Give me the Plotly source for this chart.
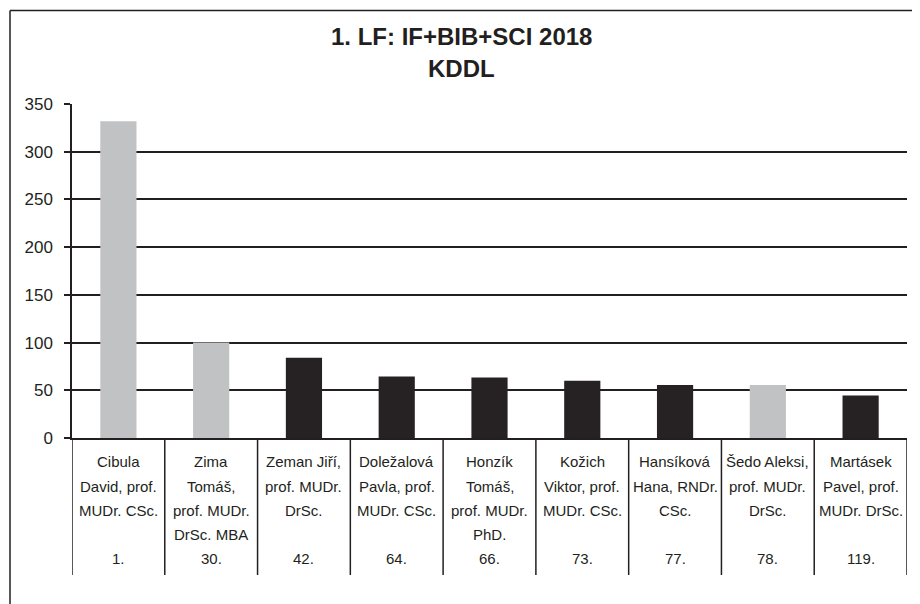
import plotly.graph_objects as go

# ---- data ----
names = ["Cibula David", "Zima Tomáš", "Zeman Jiří", "Doležalová Pavla", "Honzík Tomáš",
         "Kožich Viktor", "Hansíková Hana", "Šedo Aleksi", "Martásek Pavel"]
label_lines = [
    ["Cibula", "David, prof.", "MUDr. CSc.", ""],
    ["Zima", "Tomáš,", "prof. MUDr.", "DrSc. MBA"],
    ["Zeman Jiří,", "prof. MUDr.", "DrSc.", ""],
    ["Doležalová", "Pavla, prof.", "MUDr. CSc.", ""],
    ["Honzík", "Tomáš,", "prof. MUDr.", "PhD."],
    ["Kožich", "Viktor, prof.", "MUDr. CSc.", ""],
    ["Hansíková", "Hana, RNDr.", "CSc.", ""],
    ["Šedo Aleksi,", "prof. MUDr.", "DrSc.", ""],
    ["Martásek", "Pavel, prof.", "MUDr. DrSc.", ""],
]
ranks = ["1.", "30.", "42.", "64.", "66.", "73.", "77.", "78.", "119."]
values = [332, 100, 84, 64.5, 63.5, 60, 55.5, 55.5, 44.5]
highlight = [True, True, False, False, False, False, False, True, False]
y_ticks = [0, 50, 100, 150, 200, 250, 300, 350]

GRAY = "#c1c2c4"
DARK = "#262223"
INK = "#231f20"
FONT = "Arial, Liberation Sans"

# page has an 8px body margin; figure placed at (8, 8)
OFF = 8
W, H = 920 - OFF, 604 - OFF
L, T = 72 - OFF, 104 - OFF
PW, PH = 907 - 72, 438 - 104
R = W - L - PW
B = H - T - PH

fig = go.Figure()
fig.add_trace(go.Bar(
    x=names, y=values,
    marker=dict(color=[GRAY if h else DARK for h in highlight], line=dict(width=0)),
    width=0.39,
    hoverinfo="x+y",
))

annotations = []
title_x = (461 - 72) / PW
annotations.append(dict(text="<b>1. LF: IF+BIB+SCI 2018</b>", xref="paper", yref="paper",
                        x=title_x, y=1, yshift=(104 - 36), xanchor="center", yanchor="middle",
                        showarrow=False, font=dict(family=FONT, size=24, color=INK)))
annotations.append(dict(text="<b>KDDL</b>", xref="paper", yref="paper",
                        x=title_x, y=1, yshift=(104 - 68), xanchor="center", yanchor="middle",
                        showarrow=False, font=dict(family=FONT, size=24, color=INK)))

row_offsets = [23, 48, 72.5, 96.5]
rank_offset = 120
for name, lines, rk in zip(names, label_lines, ranks):
    for off, txt in zip(row_offsets, lines):
        if txt:
            annotations.append(dict(text=txt, x=name, xref="x", yref="paper", y=0,
                                    yshift=-off, xanchor="center", yanchor="middle",
                                    showarrow=False,
                                    font=dict(family=FONT, size=15, color=INK)))
    annotations.append(dict(text=rk, x=name, xref="x", yref="paper", y=0,
                            yshift=-rank_offset, xanchor="center", yanchor="middle",
                            showarrow=False,
                            font=dict(family=FONT, size=15, color=INK)))

shapes = []
div_bottom = -(575 - 438) / PH
for i in range(len(names) + 1):
    shapes.append(dict(type="line", xref="x", yref="paper", x0=i - 0.5, x1=i - 0.5,
                       y0=0, y1=div_bottom, line=dict(color=INK, width=1.5)))
# outer frame (left and top)
fx = (10 - 72) / PW
fy_top = 1 + (104 - 10.5) / PH
fy_bot = -(604 - 438) / PH - 0.02
shapes.append(dict(type="line", xref="paper", yref="paper", x0=fx, x1=fx, y0=fy_bot, y1=fy_top,
                   line=dict(color=INK, width=1.5)))
shapes.append(dict(type="line", xref="paper", yref="paper", x0=fx, x1=1 + (R + 10) / PW, y0=fy_top, y1=fy_top,
                   line=dict(color=INK, width=1.5)))

fig.update_layout(
    width=W, height=H,
    margin=dict(l=L, r=R, t=T, b=B),
    paper_bgcolor="white", plot_bgcolor="white",
    showlegend=False,
    bargap=0.61,
    annotations=annotations,
    shapes=shapes,
    xaxis=dict(showticklabels=False, showgrid=False, ticks="", showline=True,
               linecolor=INK, linewidth=1.5, zeroline=False, range=[-0.5, len(names) - 0.5],
               fixedrange=True),
    yaxis=dict(range=[0, 350], tickvals=y_ticks, showgrid=True, gridcolor=INK, gridwidth=1.5,
               showline=True, linecolor=INK, linewidth=1.5, ticks="outside", ticklen=6,
               tickcolor=INK, tickwidth=1.5, zeroline=False, ticklabelstandoff=8,
               tickfont=dict(family=FONT, size=17, color=INK),
               fixedrange=True),
)

fig.write_html("out.html")
